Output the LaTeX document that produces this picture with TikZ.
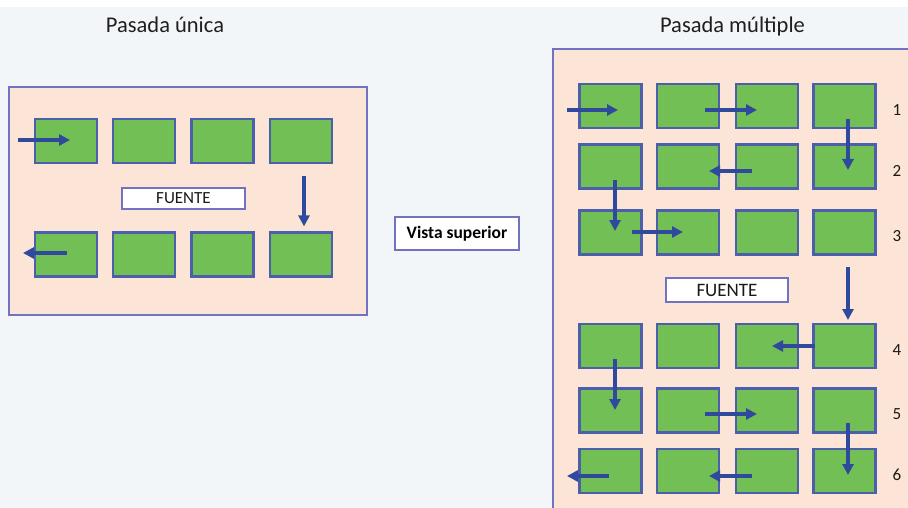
\documentclass[tikz,border=0pt]{standalone}
\usepackage{fontspec}
\setmainfont{Carlito}
\usetikzlibrary{arrows.meta}
\definecolor{bgcol}{HTML}{F3F6F8}
\definecolor{panelfill}{HTML}{FCE4D6}
\definecolor{panelline}{HTML}{7272C2}
\definecolor{cellfill}{HTML}{72C055}
\definecolor{cellline}{HTML}{4C5FAA}
\definecolor{flowcol}{HTML}{2F4A9C}
\tikzset{
  panel/.style={fill=panelfill, draw=panelline, line width=1.8pt},
  cell/.style={draw=cellline, fill=cellfill, line width=2.2pt, minimum width=62pt, minimum height=44pt, inner sep=0pt},
  srcbox/.style={draw=panelline, fill=white, line width=1.8pt, inner sep=0pt, text=black!90},
  viewbox/.style={draw=panelline, fill=white!96!bgcol, line width=2pt, minimum width=124pt, minimum height=33pt, inner sep=0pt, font=\fontsize{17.5}{19}\selectfont\bfseries},
  title/.style={anchor=base, font=\fontsize{22.5}{24}\selectfont, text=black!88},
  rowlabel/.style={font=\fontsize{17}{19}\selectfont, text=black!90},
  flow/.style={draw=flowcol, line width=3.4pt, -{Triangle[length=11pt,width=11pt]}}
}
\begin{document}
\begin{tikzpicture}[x=1pt,y=-1pt]
  \useasboundingbox (0,0) rectangle (908,508);
  \clip (0,0) rectangle (908,508);
  \fill[bgcol] (0,0) rectangle (908,508);
  \fill[white] (0,0) rectangle (908,7);

  % titles
  \node[title] (t1) at (165,33) {Pasada única};
  \node[title] (t2) at (732.5,33) {Pasada múltiple};

  % single-pass panel
  \draw[panel] (9,87) rectangle (367,315);
  \foreach \c/\x in {1/66,2/144,3/222.5,4/301} {
    \node[cell] (L1\c) at (\x,141) {};
    \node[cell] (L2\c) at (\x,254.5) {};
  }
  \node[srcbox, minimum width=123pt, minimum height=21pt, font=\fontsize{17}{18}\selectfont] (srcL) at (183.5,198.5) {FUENTE};
  \draw[flow] ([shift={(-48,-1)}]L11.center) -- ([shift={(4,-1)}]L11.center);
  \draw[flow] ([shift={(3,12)}]L14.south) -- ([shift={(3,-5)}]L24.north);
  \draw[flow] ([shift={(1,-1.5)}]L21.center) -- ([shift={(-43,-1.5)}]L21.center);

  % central label
  \node[viewbox] (view) at (457,233.5) {Vista superior};

  % multi-pass panel
  \fill[panelfill] (553,49) rectangle (920,520);
  \draw[panelline, line width=1.8pt] (920,49) -- (553,49) -- (553,520);
  \foreach \r/\y in {1/106,2/166.5,3/232.5,4/346,5/410.5,6/471} {
    \foreach \c/\x in {1/610.5,2/688,3/767,4/844.5} {
      \node[cell] (R\r\c) at (\x,\y) {};
    }
    \node[rowlabel] (n\r) at (897,\y+4) {\r};
  }
  \node[srcbox, minimum width=122pt, minimum height=24pt, font=\fontsize{19}{21}\selectfont] (srcR) at (727,290) {FUENTE};

  % serpentine path through the rows
  \draw[flow] ([shift={(-43.5,4)}]R11.center) -- ([shift={(7.5,4)}]R11.center);
  \draw[flow] ([shift={(17,4)}]R12.center) -- ([shift={(-10,4)}]R13.center);
  \draw[flow] ([shift={(3.5,13)}]R14.center) -- ([shift={(3.5,3.5)}]R24.center);
  \draw[flow] ([shift={(-15,4.5)}]R23.center) -- ([shift={(21,4.5)}]R22.center);
  \draw[flow] ([shift={(4.5,13.5)}]R21.center) -- ([shift={(4.5,-1.5)}]R31.center);
  \draw[flow] ([shift={(21.5,-0.5)}]R31.center) -- ([shift={(-5,-0.5)}]R32.center);
  \draw[flow] ([shift={(3.5,34.5)}]R34.center) -- ([shift={(3.5,-26)}]R44.center);
  \draw[flow] ([shift={(-29.5,0)}]R44.center) -- ([shift={(5,0)}]R43.center);
  \draw[flow] ([shift={(4.5,13)}]R41.center) -- ([shift={(4.5,-0.5)}]R51.center);
  \draw[flow] ([shift={(17,3.5)}]R52.center) -- ([shift={(-10,3.5)}]R53.center);
  \draw[flow] ([shift={(3.5,12.5)}]R54.center) -- ([shift={(3.5,4)}]R64.center);
  \draw[flow] ([shift={(-15,5)}]R63.center) -- ([shift={(21,5)}]R62.center);
  \draw[flow] ([shift={(-1.5,5)}]R61.center) -- ([shift={(-43.5,5)}]R61.center);
\end{tikzpicture}
\end{document}
